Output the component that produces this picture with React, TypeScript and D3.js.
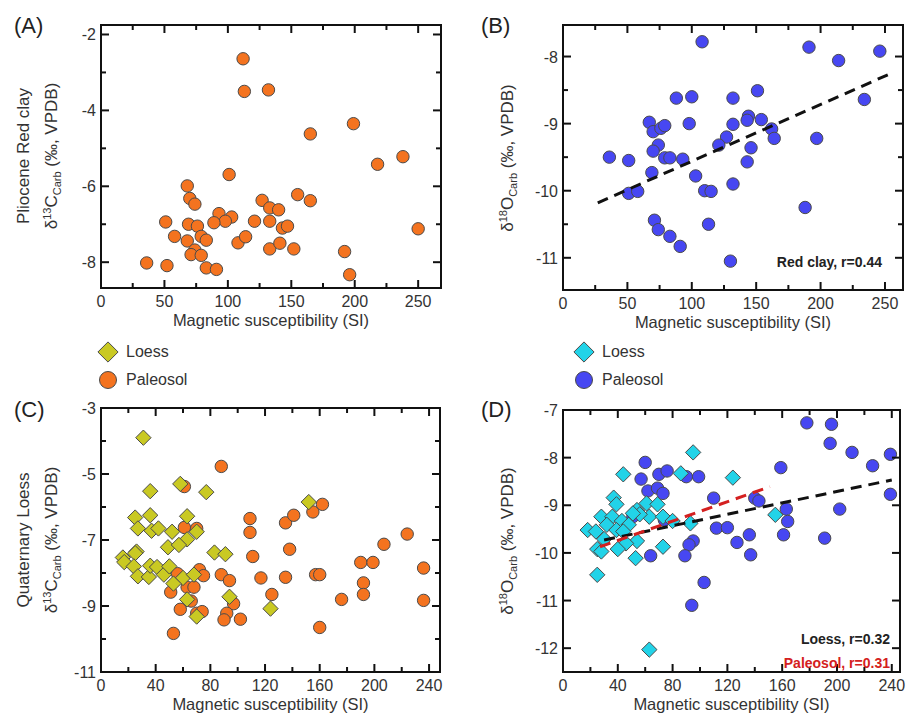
import React from "react";
import * as d3 from "d3";

type Pt = [number, number];

// Panel A: Pliocene red clay, d13C
const aPaleosol: Pt[] = [
  [112, -2.64], [113, -3.5], [132, -3.46], [101, -5.69], [68, -5.99], [70, -6.32], [74, -6.47],
  [127, -6.37], [133, -6.57], [93, -6.72], [103, -6.81], [98, -6.92], [89, -6.96], [51, -6.94],
  [69, -7.0], [76, -7.05], [121, -6.92], [133, -6.92], [58, -7.32], [79, -7.32], [83, -7.42],
  [68, -7.44], [108, -7.49], [114, -7.33], [74, -7.68], [71, -7.8], [79, -7.82], [133, -7.65],
  [36, -8.02], [52, -8.09], [83, -8.15], [91, -8.19],
  [165, -4.62], [199, -4.35], [218, -5.42], [238, -5.22], [250, -7.12], [192, -7.72], [196, -8.33],
  [155, -6.22], [165, -6.38], [143, -7.1], [147, -7.05], [141, -7.5], [152, -7.65], [140, -6.62]
];

// Panel B: Pliocene red clay, d18O
const bPaleosol: Pt[] = [
  [108, -7.78], [191, -7.86], [246, -7.92], [214, -8.06], [234, -8.64], [151, -8.51], [88, -8.62],
  [100, -8.6], [132, -8.62], [67, -8.98], [70, -9.12], [76, -9.07], [79, -9.03], [98, -9.0],
  [132, -9.01], [144, -8.89], [143, -8.95], [154, -8.94], [162, -9.08], [164, -9.22], [197, -9.22],
  [127, -9.2], [121, -9.32], [146, -9.36], [74, -9.32], [70, -9.41], [36, -9.5], [51, -9.55],
  [79, -9.51], [83, -9.51], [93, -9.53], [143, -9.57], [69, -9.73], [103, -9.78], [51, -10.04],
  [58, -10.01], [110, -10.0], [115, -10.01], [132, -9.9], [188, -10.25], [71, -10.44], [74, -10.58],
  [83, -10.68], [91, -10.83], [113, -10.5], [130, -11.05]
];
const bFit: Pt[] = [[27, -10.18], [256, -8.24]];

// Panel C: Quaternary loess, d13C
const cLoess: Pt[] = [
  [31, -3.9], [36, -5.52], [77, -5.55], [58, -5.3], [25, -6.32], [36, -6.25], [27, -6.65], [37, -6.72],
  [42, -6.65], [52, -6.75], [63, -6.28], [63, -6.98], [70, -6.75], [49, -7.22], [57, -7.15], [26, -7.35],
  [25, -7.4], [16, -7.53], [17, -7.67], [24, -7.8], [27, -8.1], [35, -8.12], [36, -7.78], [41, -7.82],
  [46, -8.05], [50, -7.8], [60, -8.15], [68, -8.05], [53, -8.32], [83, -7.38], [91, -7.43], [94, -8.72],
  [63, -8.8], [70, -9.32], [124, -9.08], [152, -5.85]
];
const cPaleosol: Pt[] = [
  [88, -4.77], [61, -5.38], [61, -6.62], [70, -6.65], [109, -6.35], [109, -6.77], [135, -6.48],
  [141, -6.25], [155, -6.15], [162, -5.92], [138, -7.28], [111, -7.5], [207, -7.13], [224, -6.82],
  [190, -7.68], [199, -7.68], [236, -7.85], [72, -7.9], [75, -8.08], [56, -8.02], [88, -8.05],
  [94, -8.23], [117, -8.15], [135, -8.13], [157, -8.05], [160, -8.05], [192, -8.3], [192, -8.65],
  [125, -8.65], [63, -8.43], [68, -8.43], [51, -8.58], [66, -8.85], [97, -8.93], [176, -8.8],
  [236, -8.83], [58, -9.1], [70, -9.22], [74, -9.17], [92, -9.22], [90, -9.42], [102, -9.4],
  [160, -9.65], [53, -9.83]
];

// Panel D: Quaternary loess, d18O
const dLoess: Pt[] = [
  [95, -7.89], [44, -8.35], [86, -8.33], [124, -8.42], [37, -8.84], [39, -8.98], [54, -9.1], [61, -8.96],
  [69, -8.98], [63, -9.24], [73, -9.24], [80, -9.33], [56, -9.19], [28, -9.24], [36, -9.24], [43, -9.33],
  [48, -9.41], [32, -9.41], [39, -9.52], [18, -9.52], [24, -9.55], [30, -9.71], [44, -9.55], [54, -9.75],
  [46, -9.8], [40, -9.92], [25, -9.92], [28, -9.97], [53, -10.11], [73, -9.87], [93, -9.38], [155, -9.2],
  [25, -10.46], [63, -12.03], [51, -9.17]
];
const dPaleosol: Pt[] = [
  [178, -7.27], [196, -7.3], [195, -7.7], [211, -7.89], [239, -7.93], [226, -8.17], [239, -8.77],
  [159, -8.21], [60, -8.1], [57, -8.45], [70, -8.35], [76, -8.28], [90, -8.4], [99, -8.4], [62, -8.7],
  [69, -8.64], [73, -8.75], [110, -8.85], [140, -8.85], [143, -8.91], [163, -9.08], [202, -9.08],
  [164, -9.34], [161, -9.62], [191, -9.69], [112, -9.48], [120, -9.47], [136, -9.62], [127, -9.78],
  [137, -10.04], [95, -9.75], [92, -9.83], [89, -10.06], [64, -10.06], [103, -10.62], [94, -11.1],
  [51, -9.24], [74, -9.31]
];
const dLoessFit: Pt[] = [[30, -9.73], [240, -8.47]];
const dPaleosolFit: Pt[] = [[27, -9.87], [151, -8.61]];

const ORANGE = "#f4731f";
const BLUE = "#4747f2";
const OLIVE = "#c9c923";
const CYAN = "#22d3e8";
const STROKE = "#4a4a4a";
const FONT = "Liberation Sans, Arial, sans-serif";

interface PanelProps {
  box: [number, number, number, number];
  xDomain: [number, number];
  yDomain: [number, number];
  xMajor: number[];
  xMinor: number[];
  yMajor: number[];
  yMinor: number[];
  children: (x: d3.ScaleLinear<number, number>, y: d3.ScaleLinear<number, number>) => React.ReactNode;
}

const Panel = ({ box, xDomain, yDomain, xMajor, xMinor, yMajor, yMinor, children }: PanelProps) => {
  const [l, t, r, b] = box;
  const x = d3.scaleLinear().domain(xDomain).range([l, r]);
  const y = d3.scaleLinear().domain(yDomain).range([t, b]);
  const tick = (maj: boolean) => (maj ? 8 : 5);
  return (
    <g>
      <g>{children(x, y)}</g>
      <rect x={l} y={t} width={r - l} height={b - t} fill="none" stroke="#111" strokeWidth={2} />
      {[...xMajor.map((v) => [v, 1]), ...xMinor.map((v) => [v, 0])].map(([v, m], i) => (
        <g key={"x" + i} stroke="#111" strokeWidth={2}>
          <line x1={x(v)} x2={x(v)} y1={b} y2={b - tick(!!m)} />
          <line x1={x(v)} x2={x(v)} y1={t} y2={t + tick(!!m)} />
        </g>
      ))}
      {[...yMajor.map((v) => [v, 1]), ...yMinor.map((v) => [v, 0])].map(([v, m], i) => (
        <g key={"y" + i} stroke="#111" strokeWidth={2}>
          <line x1={l} x2={l + tick(!!m)} y1={y(v)} y2={y(v)} />
          <line x1={r} x2={r - tick(!!m)} y1={y(v)} y2={y(v)} />
        </g>
      ))}
      {xMajor.map((v) => (
        <text key={"xl" + v} x={x(v)} y={b + 19} textAnchor="middle" fontSize={16} fill="#333">{v}</text>
      ))}
      {yMajor.map((v) => (
        <text key={"yl" + v} x={l - 5} y={y(v) + 6} textAnchor="end" fontSize={16} fill="#333">{v}</text>
      ))}
      <text x={(l + r) / 2} y={b + 38} textAnchor="middle" fontSize={16.5} fill="#333">
        Magnetic susceptibility  (SI)
      </text>
    </g>
  );
};

const circles = (data: Pt[], x: any, y: any, fill: string) =>
  data.map((d, i) => (
    <circle key={i} cx={x(d[0])} cy={y(d[1])} r={6.2} fill={fill} stroke={STROKE} strokeWidth={1} />
  ));
const diamonds = (data: Pt[], x: any, y: any, fill: string) => {
  const sym = d3.symbol(d3.symbolDiamond2, 150)();
  return data.map((d, i) => (
    <path key={i} d={sym as string} transform={`translate(${x(d[0])},${y(d[1])})`} fill={fill} stroke={STROKE} strokeWidth={1} />
  ));
};
const fit = (data: Pt[], x: any, y: any, color: string) => (
  <path d={d3.line<Pt>().x((d) => x(d[0])).y((d) => y(d[1]))(data) as string} stroke={color} strokeWidth={3} strokeDasharray="11,7" fill="none" />
);

const YTitle = ({ x, y, lines }: { x: number; y: number; lines: React.ReactNode[] }) => (
  <g transform={`translate(${x},${y}) rotate(-90)`}>
    {lines.map((ln, i) => (
      <text key={i} x={0} y={i * 28} textAnchor="middle" fontSize={17} fill="#333">{ln}</text>
    ))}
  </g>
);

const iso = (mass: string, el: string) => (
  <>
    δ<tspan dy={-6} fontSize={11}>{mass}</tspan>
    <tspan dy={6}>{el}</tspan>
    <tspan dy={4} fontSize={11}>Carb</tspan>
    <tspan dy={-4}> (‰,  VPDB)</tspan>
  </>
);

const Legend = ({ x, y, dFill, cFill }: { x: number; y: number; dFill: string; cFill: string }) => {
  const sym = d3.symbol(d3.symbolDiamond2, 260)();
  return (
    <g fontSize={16} fill="#333">
      <path d={sym as string} transform={`translate(${x},${y})`} fill={dFill} stroke={STROKE} />
      <text x={x + 18} y={y + 5}>Loess</text>
      <circle cx={x} cy={y + 28} r={8.5} fill={cFill} stroke={STROKE} />
      <text x={x + 18} y={y + 33}>Paleosol</text>
    </g>
  );
};

export default function App() {
  return (
    <svg width={921} height={726} style={{ position: "absolute", left: 0, top: 0, background: "#fff" }} fontFamily={FONT}>
      <text x={14} y={33} fontSize={22} fill="#222">(A)</text>
      <text x={481} y={33} fontSize={22} fill="#222">(B)</text>
      <text x={14} y={417} fontSize={22} fill="#222">(C)</text>
      <text x={481} y={417} fontSize={22} fill="#222">(D)</text>

      <Panel box={[101, 25, 441, 288]} xDomain={[0, 268]} yDomain={[-1.75, -8.68]}
        xMajor={[0, 50, 100, 150, 200, 250]} xMinor={[25, 75, 125, 175, 225]}
        yMajor={[-2, -4, -6, -8]} yMinor={[-3, -5, -7]}>
        {(x, y) => circles(aPaleosol, x, y, ORANGE)}
      </Panel>
      <YTitle x={29} y={156} lines={["Pliocene Red clay", iso("13", "C")]} />

      <Panel box={[563, 25, 903, 290]} xDomain={[0, 264]} yDomain={[-7.53, -11.48]}
        xMajor={[0, 50, 100, 150, 200, 250]} xMinor={[25, 75, 125, 175, 225]}
        yMajor={[-8, -9, -10, -11]} yMinor={[-8.5, -9.5, -10.5]}>
        {(x, y) => (
          <>
            {circles(bPaleosol, x, y, BLUE)}
            {fit(bFit, x, y, "#111")}
          </>
        )}
      </Panel>
      <YTitle x={513} y={158} lines={[iso("18", "O")]} />
      <text x={882} y={267} textAnchor="end" fontSize={14} fontWeight="bold" fill="#222">Red clay, r=0.44</text>

      <Legend x={108} y={352} dFill={OLIVE} cFill={ORANGE} />
      <Legend x={584} y={352} dFill={CYAN} cFill={BLUE} />

      <Panel box={[101, 408, 440, 672]} xDomain={[0, 248]} yDomain={[-3, -11]}
        xMajor={[0, 40, 80, 120, 160, 200, 240]} xMinor={[20, 60, 100, 140, 180, 220]}
        yMajor={[-3, -5, -7, -9, -11]} yMinor={[-4, -6, -8, -10]}>
        {(x, y) => (
          <>
            {circles(cPaleosol, x, y, ORANGE)}
            {diamonds(cLoess, x, y, OLIVE)}
          </>
        )}
      </Panel>
      <YTitle x={29} y={540} lines={["Quaternary Loess", iso("13", "C")]} />

      <Panel box={[563, 410, 900, 672]} xDomain={[0, 246]} yDomain={[-7, -12.5]}
        xMajor={[0, 40, 80, 120, 160, 200, 240]} xMinor={[20, 60, 100, 140, 180, 220]}
        yMajor={[-7, -8, -9, -10, -11, -12]} yMinor={[]}>
        {(x, y) => (
          <>
            {circles(dPaleosol, x, y, BLUE)}
            {diamonds(dLoess, x, y, CYAN)}
            {fit(dLoessFit, x, y, "#111")}
            {fit(dPaleosolFit, x, y, "#d42020")}
          </>
        )}
      </Panel>
      <YTitle x={513} y={541} lines={[iso("18", "O")]} />
      <text x={890} y={644} textAnchor="end" fontSize={14} fontWeight="bold" fill="#222">Loess, r=0.32</text>
      <text x={890} y={668} textAnchor="end" fontSize={14} fontWeight="bold" fill="#d42020">Paleosol, r=0.31</text>
    </svg>
  );
}
